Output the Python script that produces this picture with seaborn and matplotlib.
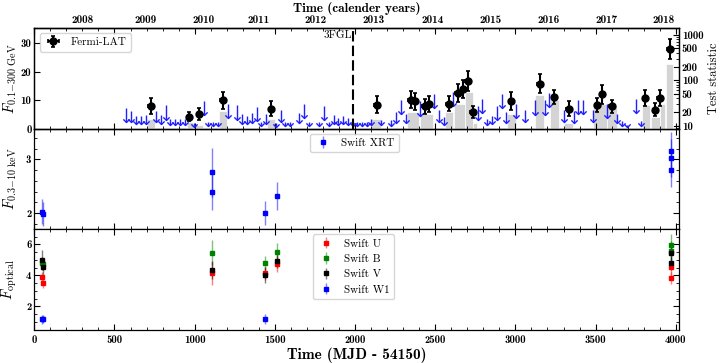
import numpy as np
import matplotlib
matplotlib.use("Agg")
import matplotlib.pyplot as plt
from matplotlib.ticker import MultipleLocator, FixedLocator, NullLocator, NullFormatter
from matplotlib.path import Path
import seaborn as sns

# ---- Fermi-LAT detections (days since MJD 54150, flux) ----
lat_t = [727, 966, 1029, 1176, 1478, 2135, 2347, 2376, 2434, 2463, 2583, 2641, 2673,
         2702, 2735, 2972, 3151, 3242, 3332, 3510, 3541, 3600, 3811, 3870, 3899, 3961]
lat_f = [8.0, 4.2, 5.2, 9.9, 7.0, 8.4, 10.2, 9.6, 7.8, 8.7, 8.7, 12.5, 14.0,
         16.6, 5.8, 9.7, 15.8, 11.1, 7.0, 8.4, 12.0, 7.8, 10.7, 6.7, 10.7, 27.9]
lat_err = [2.8, 1.6, 2.2, 2.9, 2.6, 2.9, 2.9, 2.9, 2.6, 2.7, 2.6, 3.0, 3.2,
           3.5, 2.2, 3.2, 3.3, 2.5, 2.6, 2.5, 3.2, 2.4, 2.9, 2.2, 2.7, 3.5]
lat_xerr = 15

# ---- Fermi-LAT upper limits ----
ul_t = [574, 605, 636, 667, 698, 757, 788, 819, 844, 875, 907, 938, 996, 1056, 1083,
        1114, 1145, 1208, 1266, 1295, 1326, 1355, 1386, 1415, 1447, 1505, 1536, 1565,
        1594, 1652, 1683, 1713, 1773, 1804, 1835, 1867, 1895, 1925, 1956, 1987, 2014,
        2043, 2072, 2101, 2165, 2222, 2253, 2284, 2315, 2405, 2494, 2525, 2554, 2612,
        2764, 2793, 2824, 2853, 2883, 2914, 2943, 3003, 3061, 3122, 3182, 3211, 3301,
        3363, 3392, 3423, 3481, 3572, 3631, 3662, 3693, 3751, 3781]
ul_f = [7.1, 6.2, 4.5, 4.5, 4.8, 6.2, 4.8, 8.2, 3.3, 3.3, 3.3, 3.3, 2.1, 9.8, 2.5,
        2.5, 2.5, 8.6, 8.2, 5.1, 4.5, 5.4, 7.6, 2.5, 5.1, 2.0, 6.6, 2.5,
        2.2, 5.4, 8.6, 2.2, 2.5, 8.0, 2.2, 4.8, 3.6, 4.5, 3.6, 2.2, 2.2,
        2.2, 2.2, 3.3, 3.2, 3.1, 5.8, 10.1, 5.2, 9.6, 12.3, 6.6, 4.0, 12.8,
        8.1, 10.5, 3.4, 4.6, 8.1, 12.3, 5.8, 8.7, 6.4, 9.9, 9.9, 12.6, 6.4,
        6.1, 10.1, 10.1, 6.4, 8.7, 5.2, 2.8, 1.4, 10.5, 2.8]

# ---- Test statistic bins ----
ts_start = [705, 950, 991, 1152, 1451, 2101, 2322, 2405, 2560, 2617, 2685, 2733,
            2945, 3122, 3215, 3302, 3485, 3572, 3787, 3845, 3901, 3938]
ts_stop = [751, 991, 1054, 1203, 1499, 2163, 2400, 2488, 2612, 2685, 2733, 2762,
           3003, 3178, 3273, 3360, 3569, 3631, 3839, 3901, 3932, 3984]
ts_val = [14, 12, 10.3, 21.5, 14, 14.5, 20, 18.4, 20, 30.6, 55, 11.6,
          18.4, 48, 37.5, 11.6, 30.6, 25.7, 28, 15.5, 30.6, 225]

fgl_t = 1990

years = ["2008", "2009", "2010", "2011", "2012", "2013", "2014", "2015", "2016", "2017", "2018"]
year_t = [304, 696, 1058, 1401, 1754, 2116, 2483, 2846, 3205, 3569, 3926]

# ---- Swift XRT ----
xrt_t = [48, 52, 1108, 1110, 1438, 1511, 3968, 3969, 3970]
xrt_f = [2.03, 1.98, 2.76, 2.40, 2.00, 2.31, 3.16, 3.02, 2.81]
xrt_e = [0.24, 0.22, 0.46, 0.34, 0.22, 0.26, 0.35, 0.35, 0.33]

# ---- Swift UVOT ----
opt_t = [48, 52, 1110, 1438, 1511, 3968, 3970]
u_f = [3.91, 3.48, 4.13, 4.13, 4.73, 4.55, 3.81]
u_e = [0.3, 0.3, 0.75, 0.4, 0.5, 0.5, 0.4]
b_f = [4.81, 4.75, 5.46, 4.81, 5.48, 5.95, 5.59]
b_e = [0.4, 0.4, 0.8, 0.45, 0.6, 0.75, 0.6]
v_f = [4.99, 4.55, 4.34, 4.02, 4.94, 5.46, 4.77]
v_e = [0.62, 0.5, 0.6, 0.5, 0.45, 0.5, 0.4]
w1_t = [48, 52, 1438]
w1_f = [1.16, 1.16, 1.16]
w1_e = [0.28, 0.25, 0.33]

sns.set_theme(style="ticks")
plt.rcParams.update({
    "font.family": "cmb10",
    "mathtext.fontset": "cm",
    "axes.unicode_minus": False,
    "text.color": "black",
    "axes.edgecolor": "black",
    "axes.linewidth": 0.9,
    "axes.labelcolor": "black",
    "xtick.color": "black",
    "ytick.color": "black",
    "xtick.direction": "in",
    "ytick.direction": "in",
    "xtick.top": True,
    "ytick.right": True,
    "xtick.major.size": 4,
    "ytick.major.size": 4,
    "xtick.minor.size": 2.2,
    "ytick.minor.size": 2.2,
    "xtick.major.width": 0.8,
    "ytick.major.width": 0.8,
    "xtick.minor.width": 0.6,
    "ytick.minor.width": 0.6,
    "xtick.labelsize": 7.8,
    "ytick.labelsize": 7.8,
    "ytick.major.pad": 2,
    "axes.formatter.use_mathtext": False,
})
leg_font = {"family": "cmr10", "size": 8}

fig, (ax1, ax2, ax3) = plt.subplots(3, 1, sharex=True, figsize=(7.24, 3.63), dpi=100)
fig.subplots_adjust(left=0.0474, right=0.9378, top=0.9229, bottom=0.0909, hspace=0)

# ---------- top panel ----------
tsax = ax1.twinx()
tsax.set_yscale("log")
ts_mid = (np.array(ts_start) + np.array(ts_stop)) / 2
ts_w = np.array(ts_stop) - np.array(ts_start)
tsax.bar(ts_mid, np.array(ts_val) - 1, width=ts_w, bottom=1, color="#d4d4d4",
         edgecolor="white", linewidth=0.5)
tsax.set_ylim(8.7, 1400)
tsax.yaxis.set_major_locator(FixedLocator([10, 20, 50, 100, 200, 500, 1000]))
tsax.set_yticklabels(["10", "20", "50", "100", "200", "500", "1000"])
tsax.yaxis.set_minor_formatter(NullFormatter())
tsax.tick_params(axis="y", left=False, right=True, which="both")
tsax.set_ylabel("Test statistic", family="cmr10", fontsize=9, labelpad=3)

ax1.set_zorder(tsax.get_zorder() + 1)
ax1.patch.set_visible(False)
ax1.tick_params(axis="y", right=False, which="both")

ul_f = np.array(ul_f)
ul_len = np.minimum(0.65 * ul_f, 5.0)
vmark = Path([(-1, 1), (0, 0), (1, 1)], [Path.MOVETO, Path.LINETO, Path.LINETO])
ax1.vlines(ul_t, ul_f - ul_len, ul_f, color="#2020ff", lw=1)
ax1.plot(ul_t, ul_f - ul_len, ls="none", marker=vmark, ms=4.5, mfc="none",
         mec="#2020ff", mew=1)

ax1.errorbar(lat_t, lat_f, yerr=lat_err, xerr=lat_xerr, fmt="o", color="black",
             ms=5, elinewidth=1.5, capsize=1.5, capthick=1.2, label="Fermi-LAT")
ax1.axvline(fgl_t, color="black", lw=1.5, ls=(0, (5, 2)))
ax1.text(fgl_t - 12, 34.5, "3FGL", ha="right", va="top", family="cmr10", fontsize=8)

ax1.set_ylim(0, 35.3)
ax1.yaxis.set_major_locator(MultipleLocator(10))
ax1.yaxis.set_minor_locator(NullLocator())
ax1.set_ylabel(r"$F_{0.1\mathrm{-}300\ \mathrm{GeV}}$", fontsize=10.5)
ax1.yaxis.set_label_coords(-0.024, 0.5)
ax1.legend(loc="upper left", bbox_to_anchor=(0.0088, 0.95), borderaxespad=0,
           prop=leg_font, frameon=True, handlelength=1.6, borderpad=0.4)

sec = ax1.secondary_xaxis("top")
sec.set_xticks(year_t)
sec.set_xticklabels(years)
sec.xaxis.set_minor_locator(NullLocator())
sec.tick_params(axis="x", length=0, pad=2, labelsize=8)
sec.set_xlabel("Time (calender years)", fontsize=9.5, labelpad=2)

# ---------- middle panel ----------
ax2.errorbar(xrt_t, xrt_f, yerr=xrt_e, fmt="s", color="blue", ms=3.5,
             ecolor=(0, 0, 1, 0.5), elinewidth=1, label="Swift XRT")
ax2.set_ylim(1.70, 3.57)
ax2.yaxis.set_major_locator(MultipleLocator(1))
ax2.yaxis.set_minor_locator(MultipleLocator(0.2))
ax2.set_ylabel(r"$F_{0.3\mathrm{-}10\ \mathrm{keV}}$", fontsize=10.5)
ax2.yaxis.set_label_coords(-0.024, 0.5)
ax2.legend(loc="upper left", bbox_to_anchor=(0.4276, 0.95), borderaxespad=0,
           prop=leg_font, frameon=True, handlelength=1.6, borderpad=0.4)

# ---------- bottom panel ----------
for f, e, c, name in [(u_f, u_e, "red", "Swift U"), (b_f, b_e, "green", "Swift B"),
                      (v_f, v_e, "black", "Swift V")]:
    ax3.errorbar(opt_t, f, yerr=e, fmt="s", color=c, ms=3.5,
                 ecolor=matplotlib.colors.to_rgba(c, 0.5), elinewidth=1, label=name)
ax3.errorbar(w1_t, w1_f, yerr=w1_e, fmt="s", color="blue", ms=3.5,
             ecolor=(0, 0, 1, 0.5), elinewidth=1, label="Swift W1")
ax3.set_ylim(0.47, 6.97)
ax3.yaxis.set_major_locator(MultipleLocator(2))
ax3.yaxis.set_minor_locator(MultipleLocator(0.5))
ax3.set_ylabel(r"$F_{\mathrm{optical}}$", fontsize=10.5)
ax3.yaxis.set_label_coords(-0.024, 0.5)
ax3.legend(loc="upper left", bbox_to_anchor=(0.432, 0.95), borderaxespad=0,
           prop=leg_font, frameon=True, handlelength=1.6, borderpad=0.4)

ax3.set_xlim(0, 4020)
ax3.xaxis.set_major_locator(MultipleLocator(500))
ax3.xaxis.set_minor_locator(MultipleLocator(100))
ax3.set_xlabel("Time (MJD - 54150)", fontsize=11, labelpad=2)
for ax in (ax1, ax2, ax3):
    ax.tick_params(axis="x", which="both", top=True, bottom=True)
    ax.tick_params(axis="y", which="both", left=True)
for ax in (ax2, ax3):
    ax.tick_params(axis="y", which="both", right=True)

fig.savefig("out.png", dpi=100)
